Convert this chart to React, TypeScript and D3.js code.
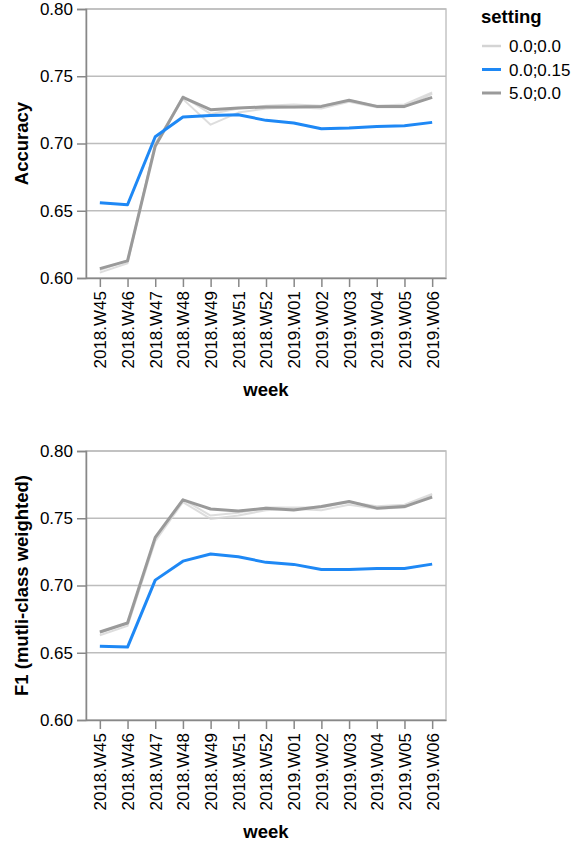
import React, { useEffect, useRef } from 'react';
import * as d3 from 'd3';

const weeks = ["2018.W45", "2018.W46", "2018.W47", "2018.W48", "2018.W49", "2018.W51", "2018.W52",
  "2019.W01", "2019.W02", "2019.W03", "2019.W04", "2019.W05", "2019.W06"];

const settings = ["0.0;0.0", "0.0;0.15", "5.0;0.0"];
const settingColors = ["#d4d4d4", "#1e88f5", "#9a9a9a"];
const yTicks = [0.6, 0.65, 0.7, 0.75, 0.8];

// accuracy per setting (0.0;0.0 has several runs)
const accBase1 = [0.604, 0.611, 0.700, 0.733, 0.714, 0.723, 0.726, 0.727, 0.726, 0.731, 0.727, 0.727, 0.737];
const accBase2 = [0.606, 0.613, 0.699, 0.735, 0.722, 0.726, 0.728, 0.729, 0.728, 0.732, 0.728, 0.729, 0.738];
const accBlue = [0.656, 0.6545, 0.705, 0.7197, 0.7209, 0.7214, 0.7172, 0.7152, 0.711, 0.7115, 0.7127, 0.7132, 0.7157];
const accGray = [0.607, 0.6127, 0.698, 0.7343, 0.7251, 0.7264, 0.7272, 0.7272, 0.7276, 0.7321, 0.7276, 0.7276, 0.7343];

// f1 per setting
const f1Base1 = [0.663, 0.670, 0.733, 0.762, 0.7495, 0.752, 0.756, 0.757, 0.756, 0.760, 0.757, 0.758, 0.767];
const f1Base2 = [0.665, 0.672, 0.735, 0.764, 0.752, 0.754, 0.758, 0.758, 0.758, 0.762, 0.759, 0.760, 0.768];
const f1Blue = [0.6549, 0.6542, 0.704, 0.7181, 0.7234, 0.7214, 0.7172, 0.7157, 0.7119, 0.7119, 0.7127, 0.7127, 0.7159];
const f1Gray = [0.6654, 0.6721, 0.7358, 0.7637, 0.7569, 0.7554, 0.7575, 0.7562, 0.7587, 0.7624, 0.7575, 0.7587, 0.7657];

const FONT = "'Liberation Sans', Arial, Helvetica, sans-serif";

export default function App() {
  const ref = useRef<SVGSVGElement>(null);

  useEffect(() => {
    document.body.style.margin = "0";
    const svg = d3.select(ref.current);
    svg.selectAll("*").remove();

    const left = 86;
    const width = 360;
    const height = 269;

    const x = d3.scalePoint<string>().domain(weeks).range([0, width]).padding(0.5);

    const drawPanel = (top: number, title: string, lines: { vals: number[]; color: string; w: number; op: number }[]) => {
      const g = svg.append("g").attr("transform", `translate(${left},${top})`);
      const y = d3.scaleLinear().domain([0.6, 0.8]).range([height, 0]);

      g.append("rect")
        .attr("width", width).attr("height", height)
        .attr("fill", "none").attr("stroke", "#c4c4c4").attr("stroke-width", 1.5);

      g.selectAll(".grid").data(yTicks).enter().append("line")
        .attr("x1", 0).attr("x2", width)
        .attr("y1", d => y(d)).attr("y2", d => y(d))
        .attr("stroke", "#bdbdbd").attr("stroke-width", 1.5);

      const line = d3.line<number>()
        .x((d, i) => x(weeks[i]) as number)
        .y(d => y(d));

      lines.forEach(l => {
        g.append("path")
          .datum(l.vals)
          .attr("fill", "none")
          .attr("stroke", l.color)
          .attr("stroke-width", l.w)
          .attr("stroke-opacity", l.op)
          .attr("stroke-linejoin", "round")
          .attr("d", line);
      });

      // y axis
      const ya = g.append("g")
        .call(d3.axisLeft(y).tickValues(yTicks).tickFormat(d3.format(".2f")).tickSize(9).tickPadding(4));
      ya.select(".domain").attr("stroke", "#888").attr("stroke-width", 1.5);
      ya.selectAll("line").attr("stroke", "#888").attr("stroke-width", 1.5);
      ya.selectAll("text").attr("font-family", FONT).attr("font-size", 17).attr("fill", "#000");

      // x axis
      const xa = g.append("g")
        .attr("transform", `translate(0,${height})`)
        .call(d3.axisBottom(x).tickSize(9).tickSizeOuter(0));
      xa.select(".domain").attr("stroke", "#888").attr("stroke-width", 1.5);
      xa.selectAll("line").attr("stroke", "#888").attr("stroke-width", 1.5);
      xa.selectAll("text")
        .attr("font-family", FONT).attr("font-size", 17).attr("fill", "#000")
        .attr("transform", "rotate(-90)")
        .attr("text-anchor", "end")
        .attr("dy", "0.35em")
        .attr("y", 0)
        .attr("x", -13);

      g.append("text")
        .attr("x", width / 2).attr("y", height + 118)
        .attr("text-anchor", "middle")
        .attr("font-family", FONT).attr("font-size", 18.5).attr("font-weight", "bold")
        .text("week");

      g.append("text")
        .attr("transform", `translate(${28 - left},${height / 2}) rotate(-90)`)
        .attr("text-anchor", "middle")
        .attr("font-family", FONT).attr("font-size", 18.5).attr("font-weight", "bold")
        .text(title);
    };

    drawPanel(9, "Accuracy", [
      { vals: accBase1, color: settingColors[0], w: 2, op: 0.8 },
      { vals: accBase2, color: settingColors[0], w: 2, op: 0.8 },
      { vals: accGray, color: settingColors[2], w: 3, op: 1 },
      { vals: accBlue, color: settingColors[1], w: 3, op: 1 },
    ]);

    drawPanel(451, "F1 (mutli-class weighted)", [
      { vals: f1Base1, color: settingColors[0], w: 2, op: 0.8 },
      { vals: f1Base2, color: settingColors[0], w: 2, op: 0.8 },
      { vals: f1Gray, color: settingColors[2], w: 3, op: 1 },
      { vals: f1Blue, color: settingColors[1], w: 3, op: 1 },
    ]);

    // legend
    const lg = svg.append("g").attr("transform", "translate(481,0)");
    lg.append("text")
      .attr("x", 0).attr("y", 23)
      .attr("font-family", FONT).attr("font-size", 18.5).attr("font-weight", "bold")
      .text("setting");
    const items = lg.selectAll(".item").data(settings).enter().append("g")
      .attr("transform", (d, i) => `translate(0,${46 + i * 23.5})`);
    items.append("line")
      .attr("x1", 1).attr("x2", 20).attr("y1", 0).attr("y2", 0)
      .attr("stroke", (d, i) => settingColors[i])
      .attr("stroke-width", (d, i) => (i === 0 ? 2.5 : 3));
    items.append("text")
      .attr("x", 28).attr("y", 6)
      .attr("font-family", FONT).attr("font-size", 17)
      .text(d => d);
  }, []);

  return <svg ref={ref} width={585} height={843} style={{ display: "block" }}></svg>;
}
